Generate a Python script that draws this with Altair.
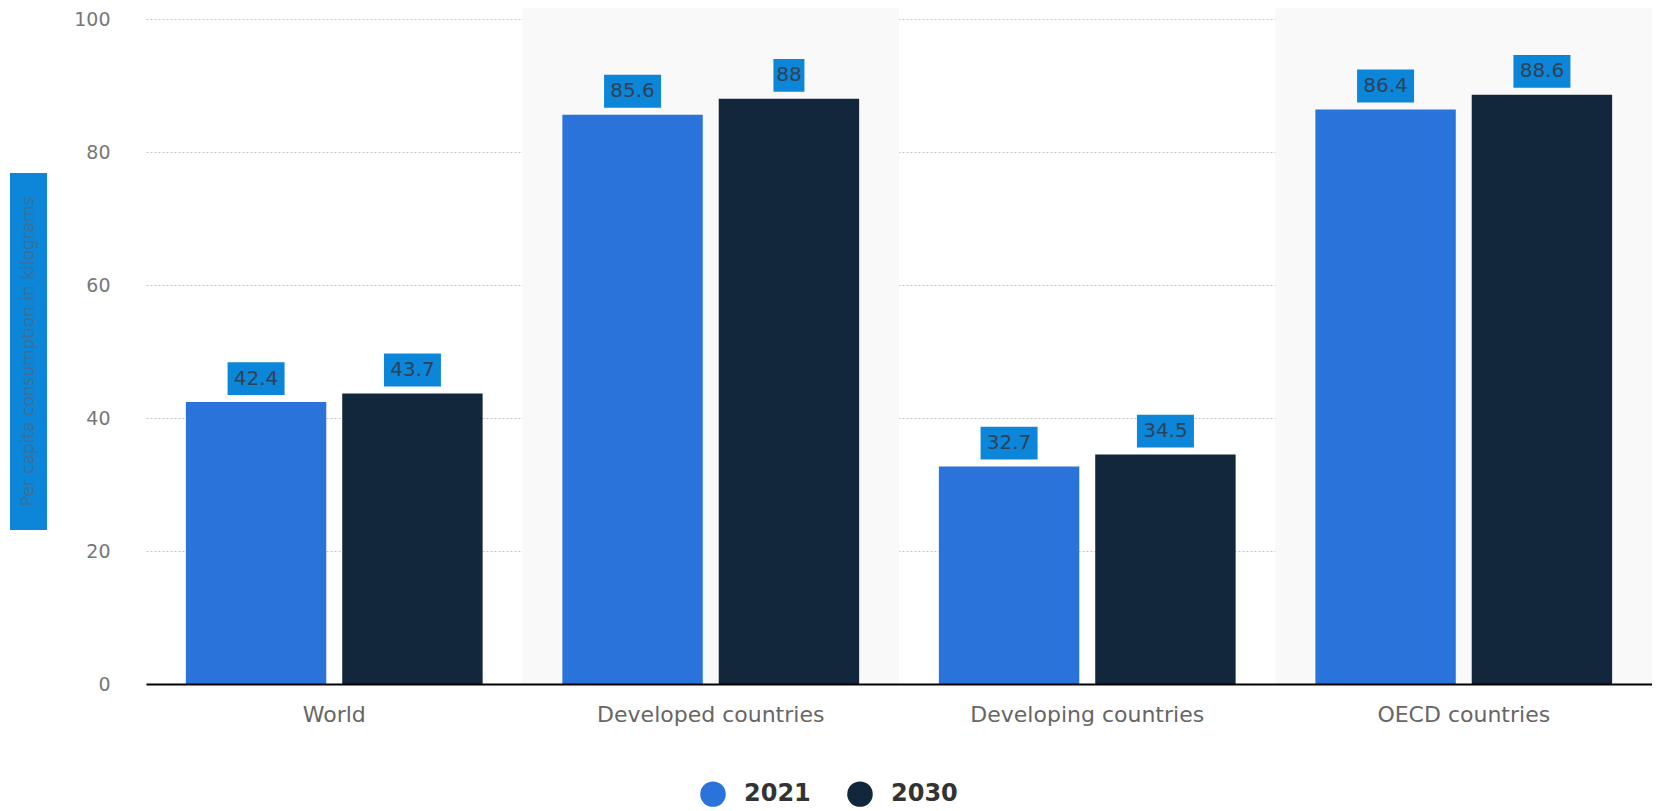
import altair as alt
import pandas as pd

categories = ["World", "Developed countries", "Developing countries", "OECD countries"]
years = ["2021", "2030"]
values_2021 = [42.4, 85.6, 32.7, 86.4]
values_2030 = [43.7, 88.0, 34.5, 88.6]
shaded = [0, 1, 0, 1]
y_title = "Per capita consumption in kilograms"

rows = []
for c, a, b in zip(categories, values_2021, values_2030):
    rows.append({"cat": c, "year": "2021", "value": a})
    rows.append({"cat": c, "year": "2030", "value": b})
df = pd.DataFrame(rows)
bands = pd.DataFrame({"cat": categories, "shade": shaded})
tdf = pd.DataFrame({"t": [y_title]})

W, H = 1506, 665
FONT = "DejaVu Sans"

xenc = alt.X("cat:N", sort=categories,
             scale=alt.Scale(paddingInner=0, paddingOuter=0),
             axis=alt.Axis(title=None, labelFontSize=22, labelColor="#666666",
                           labelFont=FONT, labelPadding=20, ticks=False, labelLimit=0,
                           domainColor="#000000", domainWidth=2, labelAngle=0))
xoff = alt.XOffset("year:N", sort=years,
                   scale=alt.Scale(paddingInner=0.102, paddingOuter=0.255))
yscale = alt.Scale(domain=[0, 100], nice=False)

bg = alt.Chart(bands).mark_rect(color="#f9f9f9").encode(
    x=xenc,
    y=alt.value(-11), y2=alt.value(H),
    opacity=alt.Opacity("shade:Q", scale=None, legend=None),
)

bars = alt.Chart(df).mark_bar().encode(
    x=xenc, xOffset=xoff,
    y=alt.Y("value:Q", scale=yscale,
            axis=alt.Axis(title=None, values=[0, 20, 40, 60, 80, 100],
                          labelFontSize=19, labelColor="#777777", labelFont=FONT,
                          labelPadding=36, ticks=False, domain=False,
                          gridColor="#c4c4c4", gridDash=[2, 2], gridWidth=1)),
    color=alt.Color("year:N", sort=years,
                    scale=alt.Scale(domain=years, range=["#2a73db", "#12263c"]),
                    legend=alt.Legend(title=None, orient="none", legendX=554, legendY=762,
                                      direction="horizontal", symbolType="circle",
                                      symbolSize=650, symbolStrokeWidth=0,
                                      labelFontSize=24, labelFont=FONT,
                                      labelFontWeight="bold", labelColor="#333333",
                                      columnPadding=36, labelOffset=18)),
)

boxes = alt.Chart(df).transform_calculate(
    lo="datum.value + 1.05",
    hi="datum.value + 6.0",
    w="13 * length(toString(datum.value)) + 5",
).mark_bar(color="#0b86d8").encode(
    x=xenc, xOffset=xoff,
    y=alt.Y("lo:Q", scale=yscale), y2="hi:Q",
    size=alt.Size("w:Q", scale=None, legend=None),
)

labels = alt.Chart(df).transform_calculate(
    mid="datum.value + 3.52",
).mark_text(fontSize=20, font=FONT, color="#2e4257", baseline="middle").encode(
    x=xenc, xOffset=xoff,
    y=alt.Y("mid:Q", scale=yscale),
    text=alt.Text("value:Q", format="~g"),
)

title_box = alt.Chart(tdf).mark_rect(color="#0b86d8").encode(
    x=alt.value(-136), x2=alt.value(-99), y=alt.value(154), y2=alt.value(511),
)
title_text = alt.Chart(tdf).mark_text(angle=270, fontSize=17, font=FONT,
                                      color="#3a6f9c", baseline="middle").encode(
    x=alt.value(-117.5), y=alt.value(332.5), text="t:N",
)

chart = alt.layer(bg, bars, boxes, labels, title_box, title_text).properties(
    width=W, height=H, background="#ffffff",
    padding={"left": 2, "top": 0, "right": 0, "bottom": 0},
).configure_view(stroke=None)

chart.save("out.html", embed_options={"renderer": "svg", "actions": False})
